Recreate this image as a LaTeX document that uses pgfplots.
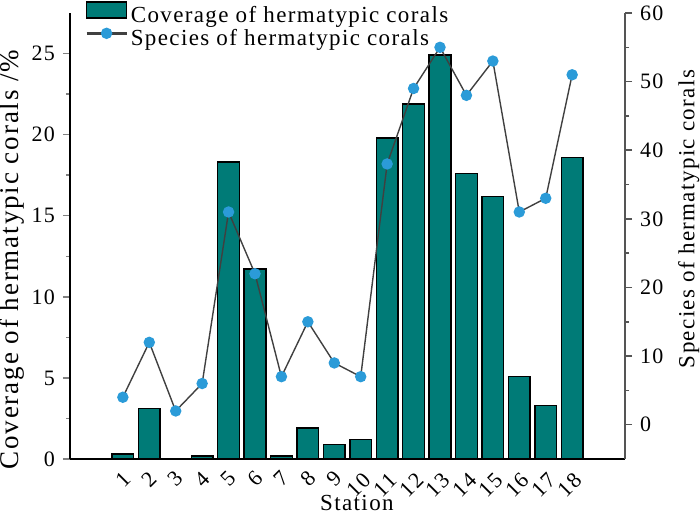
\documentclass[border=0pt]{standalone}
\usepackage{pgfplots}
\pgfplotsset{compat=1.18}
\usepackage{fontspec}
\setmainfont{Liberation Serif}[LetterSpace=6]
\definecolor{barteal}{RGB}{0,123,119}
\definecolor{ptblue}{RGB}{43,155,216}
\definecolor{lngray}{RGB}{64,64,64}
\definecolor{axgray}{RGB}{85,85,85}
\begin{document}
\fontsize{11.5}{13}\selectfont
\begin{tikzpicture}
\pgfplotsset{
  common/.style={
    scale only axis, width=277.5pt, height=223pt,
    xmin=-1, xmax=20,
    /pgf/number format/assume math mode=true,
    tick align=outside,
    major tick length=3.5pt, minor tick length=2pt,
    every tick/.append style={line width=0.75pt},
    tick label style={font=\fontsize{11}{12}\selectfont},
    label style={font=\fontsize{11.5}{13}\selectfont},
  }
}
\begin{axis}[common,
  axis x line*=bottom, axis y line*=left,
  ymin=0, ymax=27.5,
  ytick={0,5,10,15,20,25}, minor y tick num=1,
  xtick={1,...,9},
  extra x ticks={10,...,18},
  extra x tick style={xticklabel style={xshift=-2.83pt, yshift=-1.41pt}},
  xtick style={draw=none},
  x axis line style={line width=1pt, black},
  y axis line style={line width=0.75pt, black},
  xticklabel style={yshift=-6.5pt, rotate=45, anchor=center, inner sep=0pt},
  xlabel={Station},
  xlabel style={at={(axis description cs:0.517,-0.115)}, anchor=base, inner sep=0pt},
  ylabel={\addfontfeature{LetterSpace=7}Coverage of hermatypic corals /\%},
  ylabel style={at={(axis description cs:-0.1045,0.447)}, anchor=center, font=\fontsize{13.5}{15}\selectfont},
]
\addplot[ybar, bar width=0.82, fill=barteal, draw=black, line width=0.75pt]
  coordinates {(1,0.3) (2,3.1) (3,0) (4,0.2) (5,18.3) (6,11.7) (7,0.2) (8,1.9) (9,0.9)
  (10,1.2) (11,19.8) (12,21.9) (13,24.9) (14,17.6) (15,16.2) (16,5.1) (17,3.3) (18,18.6)};
\end{axis}
\begin{axis}[common,
  axis x line=none, axis y line*=right,
  ymin=-5, ymax=60,
  ytick={0,10,20,30,40,50,60}, minor y tick num=1,
  y axis line style={line width=0.75pt, axgray},
  ytick style={axgray}, minor y tick style={axgray},
  ylabel={Species of hermatypic corals},
  ylabel style={at={(axis description cs:1.115,0.538)}, anchor=center},
  legend style={at={(axis description cs:0.027,1.027)}, anchor=north west,
    draw=none, fill=none, inner sep=0pt, row sep=0pt,
    nodes={inner sep=0pt, text height=8pt, text depth=2.5pt},
    /tikz/every odd column/.append style={column sep=1.5pt},
    font=\fontsize{11.5}{13}\selectfont},
  legend cell align=left,
]
\addlegendimage{legend image code/.code={\draw[fill=barteal, draw=black, line width=0.75pt] (0pt,-0.5pt) rectangle (20pt,7.5pt);}}
\addlegendentry{Coverage of hermatypic corals}
\addplot[lngray, line width=0.7pt, mark=*, mark size=2.5pt, mark options={draw=ptblue, fill=ptblue},
  legend image code/.code={\draw[lngray, line width=1.2pt] (0pt,3.5pt) -- (20pt,3.5pt); \fill[ptblue] (10pt,3.5pt) circle (2.5pt);}]
  coordinates {(1,4) (2,12) (3,2) (4,6) (5,31) (6,22) (7,7) (8,15) (9,9) (10,7)
  (11,38) (12,49) (13,55) (14,48) (15,53) (16,31) (17,33) (18,51)};
\addlegendentry{Species of hermatypic corals}
\end{axis}
\pgfresetboundingbox
\path[use as bounding box] (-35pt,-27pt) rectangle (315pt,229.5pt);
\end{tikzpicture}
\end{document}
